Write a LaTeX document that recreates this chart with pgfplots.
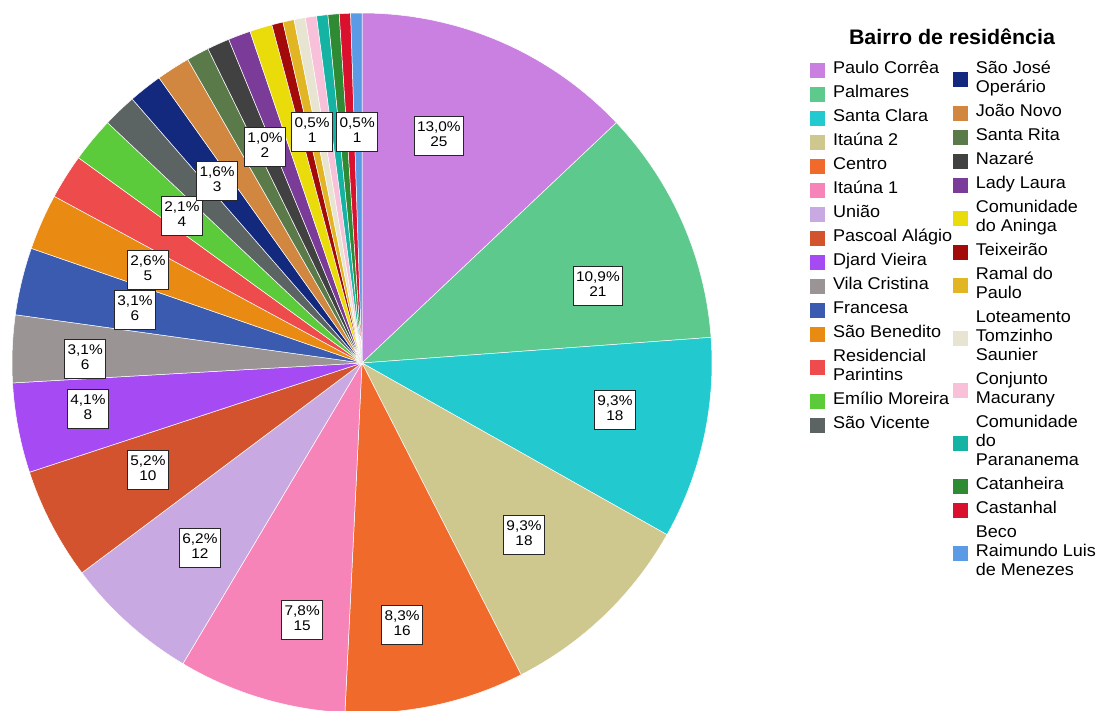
\documentclass[border=0pt]{standalone}
\usepackage{pgfplots}
\pgfplotsset{compat=1.18}
\usepackage{pgfplotstable}
\usepackage{fontspec}
\setmainfont{Liberation Sans}[FakeStretch=1.1]
\newfontfamily\legfont{Liberation Sans}[FakeStretch=1.06]
\newfontfamily\titlefont{Liberation Sans}[FakeStretch=1.02]

\definecolor{c01}{HTML}{C980E0}
\definecolor{c02}{HTML}{5DC98C}
\definecolor{c03}{HTML}{22CACF}
\definecolor{c04}{HTML}{CEC78E}
\definecolor{c05}{HTML}{F06B2B}
\definecolor{c06}{HTML}{F784B8}
\definecolor{c07}{HTML}{C9A9E2}
\definecolor{c08}{HTML}{D2532E}
\definecolor{c09}{HTML}{A64BF4}
\definecolor{c10}{HTML}{9A9494}
\definecolor{c11}{HTML}{3A5BB0}
\definecolor{c12}{HTML}{E98B12}
\definecolor{c13}{HTML}{EE4B4D}
\definecolor{c14}{HTML}{5CCB3B}
\definecolor{c15}{HTML}{5C6363}
\definecolor{c16}{HTML}{12297E}
\definecolor{c17}{HTML}{D1873F}
\definecolor{c18}{HTML}{5B7A4A}
\definecolor{c19}{HTML}{414141}
\definecolor{c20}{HTML}{7A3C98}
\definecolor{c21}{HTML}{EADC0A}
\definecolor{c22}{HTML}{A30A0A}
\definecolor{c23}{HTML}{E2B525}
\definecolor{c24}{HTML}{E8E4D2}
\definecolor{c25}{HTML}{F8C1D9}
\definecolor{c26}{HTML}{14B3A3}
\definecolor{c27}{HTML}{2E8B34}
\definecolor{c28}{HTML}{D9102E}
\definecolor{c29}{HTML}{5B9BE6}

% n = count, col = colour, lab = label shown, la/lr = label angle (deg) and radius (fraction)
\pgfplotstableread{
n col lab la lr
25 c01 1 71.3 0.685
21 c02 1 18.1 0.709
18 c03 1 -10.5 0.735
18 c04 1 -46.7 0.675
16 c05 1 -81.3 0.757
15 c06 1 -103.1 0.754
12 c07 1 -131.2 0.703
10 c08 1 -153.4 0.684
8 c09 1 -170.5 0.794
6 c10 1 179.2 0.791
6 c11 1 166.9 0.666
5 c12 1 156.5 0.667
4 c13 0 0 0
4 c14 1 140.8 0.664
3 c15 0 0 0
3 c16 1 128.5 0.665
3 c17 0 0 0
2 c18 0 0 0
2 c19 1 114.2 0.676
2 c20 0 0 0
2 c21 0 0 0
1 c22 0 0 0
1 c23 1 102.2 0.675
1 c24 0 0 0
1 c25 0 0 0
1 c26 0 0 0
1 c27 0 0 0
1 c28 0 0 0
1 c29 1 91.2 0.66
}\piedata

\newcommand\ml[1]{\begin{tabular}[c]{@{}l@{}}#1\end{tabular}}

\pgfplotsset{
  legsq/.style={
    legend cell align=left,
    legend image code/.code={\fill[##1, draw=none] (0pt,-7.5pt) rectangle (15pt,7.5pt);},
    legend style={draw=none, fill=none, anchor=north west, inner sep=0pt, outer sep=0pt,
      row sep=5pt, column sep=8pt, font=\legfont\fontsize{17}{19}\selectfont,
      nodes={inner sep=0pt, text depth={}}},
  },
  pieaxis/.style={
    at={(362pt,347pt)}, anchor=center, scale only axis, width=700pt, height=700pt,
    hide axis, xmin=-1, xmax=1, ymin=-1, ymax=1, clip=false,
  },
}

\tikzset{lbl/.style={draw=black!85, fill=white, line width=1pt, inner xsep=3pt, inner ysep=4.5pt,
  align=center, font=\fontsize{14}{15}\selectfont}}

\begin{document}
\begin{tikzpicture}
\useasboundingbox (0,0) rectangle (1098pt,710pt);
\pgfplotstablegetrowsof{\piedata}
\pgfmathtruncatemacro\lastrow{\pgfplotsretval-1}
\xdef\tot{0}
\foreach \i in {0,...,\lastrow}{%
  \pgfplotstablegetelem{\i}{n}\of\piedata
  \pgfmathsetmacro\tmp{\tot+\pgfplotsretval}\xdef\tot{\tmp}}

\begin{axis}[pieaxis, legsq, legend style={at={(1.14,0.932)}}]
\xdef\cum{0}
\foreach \i in {0,...,\lastrow}{%
  \pgfplotstablegetelem{\i}{n}\of\piedata \let\nn\pgfplotsretval
  \pgfplotstablegetelem{\i}{col}\of\piedata \let\cc\pgfplotsretval
  \pgfmathsetmacro\aS{90-\cum/\tot*360}
  \pgfmathsetmacro\aE{90-(\cum+\nn)/\tot*360}
  \edef\doit{\noexpand\addplot[forget plot, fill=\cc, draw=white, line width=0.5pt,
     domain=\aE:\aS, samples=60] ({cos(x)},{sin(x)}) -- (axis cs:0,0) -- cycle;}
  \doit
  \pgfmathsetmacro\tmp{\cum+\nn}\xdef\cum{\tmp}}
\foreach \i in {0,...,\lastrow}{%
  \pgfplotstablegetelem{\i}{n}\of\piedata \let\nn\pgfplotsretval
  \pgfplotstablegetelem{\i}{lab}\of\piedata \let\lab\pgfplotsretval
  \pgfplotstablegetelem{\i}{la}\of\piedata \let\la\pgfplotsretval
  \pgfplotstablegetelem{\i}{lr}\of\piedata \let\lr\pgfplotsretval
  \ifnum\lab=1
    \pgfmathsetmacro\pct{\nn/\tot*100}
    \pgfmathsetmacro\lx{\lr*cos(\la)}
    \pgfmathsetmacro\ly{\lr*sin(\la)}
    \edef\doit{\noexpand\node[lbl] at (axis cs:\lx,\ly) {\noexpand\strut\noexpand\pgfmathprintnumber[fixed,fixed zerofill,precision=1,use comma,assume math mode=true]{\pct}\noexpand\%\noexpand\\\noexpand\strut\nn};}
    \doit
  \fi}
\addlegendimage{fill=c01}\addlegendentry{\ml{Paulo Corrêa}}
\addlegendimage{fill=c02}\addlegendentry{\ml{Palmares}}
\addlegendimage{fill=c03}\addlegendentry{\ml{Santa Clara}}
\addlegendimage{fill=c04}\addlegendentry{\ml{Itaúna 2}}
\addlegendimage{fill=c05}\addlegendentry{\ml{Centro}}
\addlegendimage{fill=c06}\addlegendentry{\ml{Itaúna 1}}
\addlegendimage{fill=c07}\addlegendentry{\ml{União}}
\addlegendimage{fill=c08}\addlegendentry{\ml{Pascoal Alágio}}
\addlegendimage{fill=c09}\addlegendentry{\ml{Djard Vieira}}
\addlegendimage{fill=c10}\addlegendentry{\ml{Vila Cristina}}
\addlegendimage{fill=c11}\addlegendentry{\ml{Francesa}}
\addlegendimage{fill=c12}\addlegendentry{\ml{São Benedito}}
\addlegendimage{fill=c13}\addlegendentry{\ml{Residencial\\Parintins}}
\addlegendimage{fill=c14}\addlegendentry{\ml{Emílio Moreira}}
\addlegendimage{fill=c15}\addlegendentry{\ml{São Vicente}}
\end{axis}

\begin{axis}[pieaxis, legsq, legend style={at={(1.344,0.932)}}]
\addlegendimage{fill=c16}\addlegendentry{\ml{São José\\Operário}}
\addlegendimage{fill=c17}\addlegendentry{\ml{João Novo}}
\addlegendimage{fill=c18}\addlegendentry{\ml{Santa Rita}}
\addlegendimage{fill=c19}\addlegendentry{\ml{Nazaré}}
\addlegendimage{fill=c20}\addlegendentry{\ml{Lady Laura}}
\addlegendimage{fill=c21}\addlegendentry{\ml{Comunidade\\do Aninga}}
\addlegendimage{fill=c22}\addlegendentry{\ml{Teixeirão}}
\addlegendimage{fill=c23}\addlegendentry{\ml{Ramal do\\Paulo}}
\addlegendimage{fill=c24}\addlegendentry{\ml{Loteamento\\Tomzinho\\Saunier}}
\addlegendimage{fill=c25}\addlegendentry{\ml{Conjunto\\Macurany}}
\addlegendimage{fill=c26}\addlegendentry{\ml{Comunidade\\do\\Parananema}}
\addlegendimage{fill=c27}\addlegendentry{\ml{Catanheira}}
\addlegendimage{fill=c28}\addlegendentry{\ml{Castanhal}}
\addlegendimage{fill=c29}\addlegendentry{\ml{Beco\\Raimundo Luis\\de Menezes}}
\end{axis}

\node[font=\titlefont\bfseries\fontsize{21}{24}\selectfont, anchor=base] at (952pt,665pt) {Bairro de residência};
\end{tikzpicture}
\end{document}
